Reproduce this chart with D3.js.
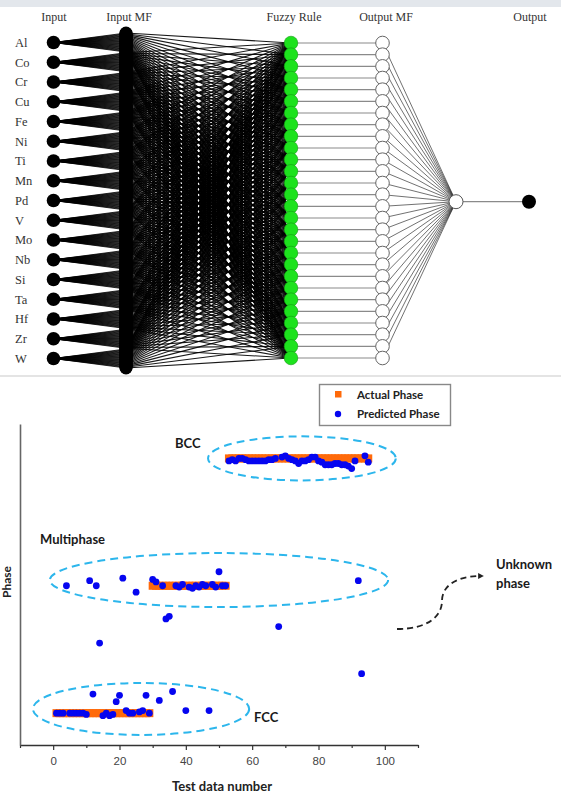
<!DOCTYPE html>
<html>
<head>
<meta charset="utf-8">
<script src="https://cdn.jsdelivr.net/npm/d3@7"></script>
<style>
  body { margin: 0; background: #fff; }
  svg { display: block; }
</style>
</head>
<body>
<script>
// ---- network diagram data ----
const inputs = ["Al", "Co", "Cr", "Cu", "Fe", "Ni", "Ti", "Mn", "Pd", "V", "Mo", "Nb", "Si", "Ta", "Hf", "Zr", "W"];
const rules = d3.range(1, 29);               // 28 fuzzy rules (one MF per input per rule)
const layerNames = ["Input", "Input MF", "Fuzzy Rule", "Output MF", "Output"];

// ---- test results data (phase: 1 = FCC, 2 = Multiphase, 3 = BCC) ----
const phaseNames = ["FCC", "Multiphase", "BCC"];
const actualRuns = [
  {phase: 1, from: 1, to: 29},
  {phase: 2, from: 30, to: 52},
  {phase: 3, from: 53, to: 95}
];
const predicted = [
  1.00, 1.00, 1.00, 2.00, 1.00, 1.00, 1.00, 1.00, 1.00, 0.99,
  2.04, 1.15, 2.00, 1.55, 0.98, 1.00, 0.98, 0.99, 1.09, 1.14,
  2.06, 1.02, 1.00, 1.00, 1.95, 1.01, 1.02, 1.14, 1.00, 2.05,
  2.03, 1.10, 2.00, 1.74, 1.76, 1.17, 2.00, 1.99, 2.01, 1.02,
  1.99, 1.98, 2.00, 1.99, 2.01, 2.00, 1.02, 2.01, 1.99, 2.11,
  2.00, 2.00, 2.98, 2.99, 2.98, 3.00, 3.00, 2.99, 2.98, 2.98,
  2.98, 2.98, 2.98, 2.98, 2.99, 2.99, 3.00, 1.68, 3.01, 3.02,
  3.00, 2.99, 2.98, 2.96, 2.98, 2.98, 2.99, 3.01, 3.01, 2.98,
  2.97, 2.95, 2.95, 2.95, 2.96, 2.96, 2.95, 2.95, 2.94, 2.92,
  2.98, 2.04, 1.31, 3.02, 2.97
];
const xTicks = [0, 20, 40, 60, 80, 100];
const xMinorTicks = [-10, 10, 30, 50, 70, 90, 110];
// dashed cluster outlines, in data units
const clusters = [
  {phase: "BCC", cx: 75.0, cy: 3.00, rx: 28.3, ry: 0.173},
  {phase: "Multiphase", cx: 50.0, cy: 2.045, rx: 51.0, ry: 0.212},
  {phase: "FCC", cx: 26.5, cy: 1.033, rx: 32.6, ry: 0.204}
];

const W = 561, H = 794;
const svg = d3.select("body").append("svg")
    .attr("width", W)
    .attr("height", H)
    .attr("viewBox", `0 0 ${W} ${H}`);

// screenshot strip at very top and panel separator
svg.append("rect").attr("width", W).attr("height", 7).attr("fill", "#e3e7ec");
svg.append("line").attr("x1", 0).attr("x2", W).attr("y1", 376).attr("y2", 376)
    .attr("stroke", "#e4e4e4").attr("stroke-width", 2);

// ================= top: ANFIS structure =================
const colX = d3.scaleOrdinal()
    .domain(["input", "mf", "rule", "outmf", "agg", "out"])
    .range([53.5, 126, 291, 382.5, 456, 529]);
const headerX = d3.scaleOrdinal().domain(layerNames).range([54, 129, 294, 386, 530]);

const yIn = d3.scalePoint().domain(inputs).range([42.5, 358.5]);
const yRule = d3.scalePoint().domain(rules).range([43, 358]);
const yMid = 201.7;

const mfs = inputs.flatMap(inp => rules.map((r, j) => ({
  inp, rule: r,
  y: yIn(inp) + (j - (rules.length - 1) / 2) * yIn.step() / rules.length
})));

const net = svg.append("g");

net.append("g")
    .attr("font-family", "'Liberation Serif', serif")
    .attr("font-size", 12)
    .attr("fill", "#333")
    .attr("text-anchor", "middle")
  .selectAll("text")
  .data(layerNames)
  .join("text")
    .attr("x", d => headerX(d))
    .attr("y", 21)
    .text(d => d);

net.append("g")
    .attr("font-family", "'Liberation Serif', serif")
    .attr("font-size", 12.5)
    .attr("fill", "#333")
  .selectAll("text")
  .data(inputs)
  .join("text")
    .attr("x", 15)
    .attr("y", d => yIn(d))
    .attr("dy", "0.35em")
    .text(d => d);

// input -> input MF wedges
net.append("g")
    .attr("stroke", "#000")
    .attr("stroke-width", 0.8)
  .selectAll("line")
  .data(mfs)
  .join("line")
    .attr("x1", colX("input")).attr("y1", d => yIn(d.inp))
    .attr("x2", colX("mf")).attr("y2", d => d.y);

// input MF -> rule mesh
net.append("g")
    .attr("stroke", "#000")
    .attr("stroke-width", 1.1)
    .attr("stroke-opacity", 0.9)
  .selectAll("line")
  .data(mfs)
  .join("line")
    .attr("x1", colX("mf")).attr("y1", d => d.y)
    .attr("x2", colX("rule")).attr("y2", d => yRule(d.rule));

// rule -> output MF
net.append("g")
    .attr("stroke", "#8a8a8a")
    .attr("stroke-width", 1.2)
  .selectAll("line")
  .data(rules)
  .join("line")
    .attr("x1", colX("rule")).attr("x2", colX("outmf"))
    .attr("y1", d => yRule(d)).attr("y2", d => yRule(d));

// output MF -> aggregation
net.append("g")
    .attr("stroke", "#333")
    .attr("stroke-width", 0.7)
  .selectAll("line")
  .data(rules)
  .join("line")
    .attr("x1", colX("outmf")).attr("y1", d => yRule(d))
    .attr("x2", colX("agg")).attr("y2", yMid);

net.append("line")
    .attr("x1", colX("agg")).attr("x2", colX("out"))
    .attr("y1", yMid).attr("y2", yMid)
    .attr("stroke", "#8a8a8a").attr("stroke-width", 1.2);

net.append("g")
    .attr("fill", "#000")
  .selectAll("circle")
  .data(mfs)
  .join("circle")
    .attr("cx", colX("mf"))
    .attr("cy", d => d.y)
    .attr("r", 6.5);

net.append("g")
    .attr("fill", "#000")
  .selectAll("circle")
  .data(inputs)
  .join("circle")
    .attr("cx", colX("input"))
    .attr("cy", d => yIn(d))
    .attr("r", 6.8);

net.append("g")
    .attr("fill", "#1de21d")
    .attr("stroke", "#139913")
    .attr("stroke-width", 0.6)
  .selectAll("circle")
  .data(rules)
  .join("circle")
    .attr("cx", colX("rule"))
    .attr("cy", d => yRule(d))
    .attr("r", 6.8);

net.append("g")
    .attr("fill", "#fff")
    .attr("stroke", "#666")
    .attr("stroke-width", 1)
  .selectAll("circle")
  .data(rules)
  .join("circle")
    .attr("cx", colX("outmf"))
    .attr("cy", d => yRule(d))
    .attr("r", 6.8);

net.append("circle")
    .attr("cx", colX("agg")).attr("cy", yMid).attr("r", 7)
    .attr("fill", "#fff").attr("stroke", "#555").attr("stroke-width", 1);
net.append("circle")
    .attr("cx", colX("out")).attr("cy", yMid).attr("r", 7)
    .attr("fill", "#000");

// ================= bottom: test results =================
const x = d3.scaleLinear().domain([-10, 110]).range([20, 418]);
const y = d3.scaleLinear().domain([0.75, 3.27]).range([745, 424]);

const plot = svg.append("g");
const boldFont = "Lato, 'Open Sans', sans-serif";

plot.append("g")
    .attr("transform", `translate(0,${y(0.75)})`)
    .call(d3.axisBottom(x).tickValues(xMinorTicks).tickSize(3).tickFormat(""))
    .call(g => g.select(".domain").remove())
    .call(g => g.selectAll("line").attr("stroke", "#333").attr("stroke-width", 1.2));

plot.append("g")
    .attr("transform", `translate(0,${y(0.75)})`)
    .call(d3.axisBottom(x).tickValues(xTicks).tickSize(5).tickSizeOuter(0))
    .call(g => g.select(".domain").attr("stroke", "#333").attr("stroke-width", 1.4))
    .call(g => g.selectAll(".tick line").attr("stroke", "#333").attr("stroke-width", 1.2))
    .call(g => g.selectAll(".tick text")
        .attr("font-family", "'Liberation Sans', Arial, sans-serif")
        .attr("font-size", 11.5)
        .attr("fill", "#444")
        .attr("dy", "1.05em"));

plot.append("g")
    .attr("transform", `translate(${x(-10)},0)`)
    .call(d3.axisLeft(y).tickValues([]).tickSizeOuter(0))
    .call(g => g.select(".domain").attr("stroke", "#666").attr("stroke-width", 1.6));

plot.append("text")
    .attr("x", 222).attr("y", 791)
    .attr("text-anchor", "middle")
    .attr("font-family", boldFont).attr("font-weight", "bold").attr("font-size", 13)
    .attr("fill", "#222")
    .text("Test data number");

plot.append("text")
    .attr("transform", "translate(11,582) rotate(-90)")
    .attr("text-anchor", "middle")
    .attr("font-family", boldFont).attr("font-weight", "bold").attr("font-size", 12)
    .attr("fill", "#222")
    .text("Phase");

// cluster outlines
plot.append("g")
    .attr("fill", "none")
    .attr("stroke", "#2cb6ec")
    .attr("stroke-width", 2)
    .attr("stroke-dasharray", "8,5")
  .selectAll("ellipse")
  .data(clusters)
  .join("ellipse")
    .attr("cx", d => x(d.cx))
    .attr("cy", d => y(d.cy))
    .attr("rx", d => x(d.cx + d.rx) - x(d.cx))
    .attr("ry", d => y(d.cy - d.ry) - y(d.cy));

// actual phase (orange squares)
const actual = actualRuns.flatMap(r => d3.range(r.from, r.to + 1).map(t => ({t, phase: r.phase})));
const sq = 8;
plot.append("g")
    .attr("fill", "#ff6a0a")
  .selectAll("rect")
  .data(actual)
  .join("rect")
    .attr("x", d => x(d.t) - sq / 2)
    .attr("y", d => y(d.phase) - sq / 2)
    .attr("width", sq)
    .attr("height", sq);

// predicted phase (blue dots)
plot.append("g")
    .attr("fill", "#0505f0")
  .selectAll("circle")
  .data(predicted)
  .join("circle")
    .attr("cx", (d, i) => x(i + 1))
    .attr("cy", d => y(d))
    .attr("r", 3.4);

// annotations
const labels = plot.append("g")
    .attr("font-family", boldFont).attr("font-weight", "bold").attr("font-size", 13)
    .attr("fill", "#1a1a1a");
labels.append("text").attr("x", 175).attr("y", 443).attr("dy", "0.35em").text(phaseNames[2]);
labels.append("text").attr("x", 40).attr("y", 539).attr("dy", "0.35em").text(phaseNames[1]);
labels.append("text").attr("x", 254).attr("y", 717).attr("dy", "0.35em").text(phaseNames[0]);
labels.append("text").attr("x", 496).attr("y", 564).attr("dy", "0.35em").text("Unknown");
labels.append("text").attr("x", 496).attr("y", 583).attr("dy", "0.35em").text("phase");

svg.append("defs").append("marker")
    .attr("id", "head")
    .attr("viewBox", "0 0 10 10")
    .attr("refX", 5).attr("refY", 5)
    .attr("markerWidth", 3.2).attr("markerHeight", 3.2)
    .attr("orient", "auto")
  .append("path")
    .attr("d", "M0,0L10,5L0,10Z")
    .attr("fill", "#222");

plot.append("path")
    .attr("d", "M397,629 C428,629 442,616 442,601 C442,586 456,576 481,576")
    .attr("fill", "none")
    .attr("stroke", "#222")
    .attr("stroke-width", 1.8)
    .attr("stroke-dasharray", "6,4")
    .attr("marker-end", "url(#head)");

// legend
const legend = plot.append("g");
legend.append("rect")
    .attr("x", 319.5).attr("y", 384.5).attr("width", 131).attr("height", 41)
    .attr("fill", "#fff").attr("stroke", "#888").attr("stroke-width", 1.4);
legend.append("rect")
    .attr("x", 335).attr("y", 391).attr("width", 6.5).attr("height", 6.5)
    .attr("fill", "#ff6a0a");
legend.append("circle")
    .attr("cx", 338).attr("cy", 414).attr("r", 3.2)
    .attr("fill", "#0505f0");
legend.append("g")
    .attr("font-family", boldFont).attr("font-weight", "bold").attr("font-size", 11.5)
    .attr("fill", "#222")
  .selectAll("text")
  .data(["Actual Phase", "Predicted Phase"])
  .join("text")
    .attr("x", 357)
    .attr("y", (d, i) => 394.5 + i * 19.5)
    .attr("dy", "0.35em")
    .text(d => d);
</script>
</body>
</html>
